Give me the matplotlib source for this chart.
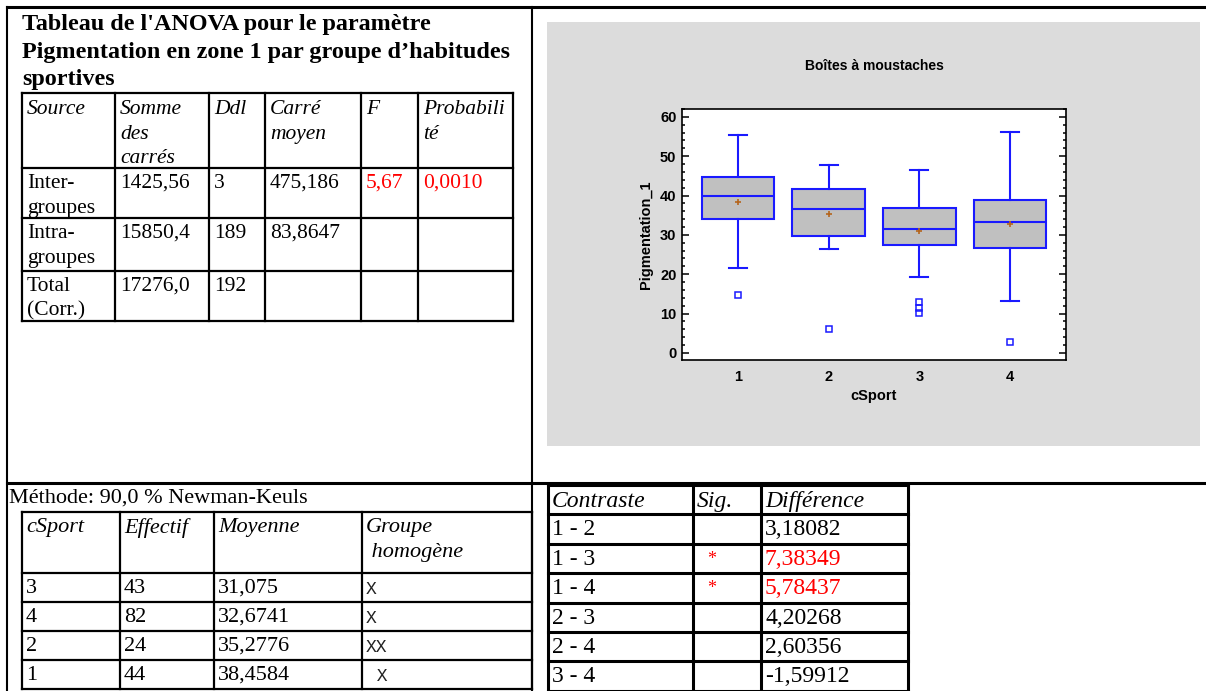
import matplotlib.pyplot as plt
from matplotlib.patches import Rectangle
from matplotlib.ticker import MultipleLocator

# ---- ANOVA table ----
anova_title = ["Tableau de l'ANOVA pour le paramètre",
               "Pigmentation en zone 1 par groupe d’habitudes",
               "sportives"]
anova_header = ["Source", "Somme\ndes\ncarrés", "Ddl", "Carré\nmoyen", "F", "Probabili\nté"]
anova_rows = [
    ["Inter-\ngroupes", "1425,56", "3", "475,186", "5,67", "0,0010"],
    ["Intra-\ngroupes", "15850,4", "189", "83,8647", "", ""],
    ["Total\n(Corr.)", "17276,0", "192", "", "", ""],
]
anova_red = [(0, 4), (0, 5)]

# ---- Newman-Keuls table ----
nk_method = "Méthode: 90,0 % Newman-Keuls"
nk_header = ["cSport", "Effectif", "Moyenne", "Groupe\n homogène"]
nk_groups = ["3", "4", "2", "1"]
nk_counts = ["43", "82", "24", "44"]
nk_means = ["31,075", "32,6741", "35,2776", "38,4584"]
nk_homog = ["X", "X", "XX", " X"]

# ---- contrasts ----
ct_header = ["Contraste", "Sig.", "Différence"]
ct_pairs = ["1 - 2", "1 - 3", "1 - 4", "2 - 3", "2 - 4", "3 - 4"]
ct_sig = ["", "*", "*", "", "", ""]
ct_diff = ["3,18082", "7,38349", "5,78437", "4,20268", "2,60356", "-1,59912"]

# ---- box plot ----
box_groups = ["1", "2", "3", "4"]
box_whislo = [21.7, 26.3, 19.3, 13.3]
box_q1 = [34.0, 29.6, 27.4, 26.6]
box_med = [39.8, 36.6, 31.5, 33.3]
box_q3 = [44.6, 41.6, 36.8, 38.8]
box_whishi = [55.5, 47.7, 46.6, 56.2]
box_mean = [38.4584, 35.2776, 31.075, 32.6741]
box_fliers = [[14.7], [6.0], [12.9, 11.5, 10.1], [2.8]]

W, H = 1206, 691
SERIF = "Liberation Serif"
SANS = "Liberation Sans"
BLUE = "#1a1aff"

fig = plt.figure(figsize=(W / 100, H / 100), dpi=100)
ax = fig.add_axes([0, 0, 1, 1], zorder=0)
ax.set_xlim(0, W)
ax.set_ylim(H, 0)
ax.axis("off")


def hline(y, x0, x1, lw):
    ax.plot([x0, x1], [y, y], color="black", lw=lw, solid_capstyle="projecting")


def vline(x, y0, y1, lw):
    ax.plot([x, x], [y0, y1], color="black", lw=lw, solid_capstyle="projecting")


def draw_grid(xs, ys, lw):
    for x in xs:
        vline(x, ys[0], ys[-1], lw)
    for y in ys:
        hline(y, xs[0], xs[-1], lw)


def cell_text(x, y, txt, size, style="normal", color="black", family=SERIF,
              pitch=24.5):
    for k, line in enumerate(txt.split("\n")):
        ax.text(x, y + k * pitch, line, va="top", ha="left", fontsize=size,
                fontstyle=style, color=color, family=family)


# page frame
hline(7, 7, W, 2.2)
vline(7, 7, H, 1.5)
vline(532, 7, H, 1.5)
hline(483, 7, W, 2.2)

# ANOVA title + table
for i, line in enumerate(anova_title):
    ax.text(22, 14 + i * 27.5, line, va="top", ha="left", fontsize=17.4,
            fontweight="bold", family=SERIF)

a_xs = [22, 115, 209, 265, 361, 418, 513]
a_ys = [93, 168, 218, 271, 321]
draw_grid(a_xs, a_ys, 1.6)
for c, txt in enumerate(anova_header):
    cell_text(a_xs[c] + 5, a_ys[0] + 7, txt, 15.5, style="italic")
for r, row in enumerate(anova_rows):
    for c, txt in enumerate(row):
        col = "red" if (r, c) in anova_red else "black"
        cell_text(a_xs[c] + 5, a_ys[r + 1] + 6, txt, 15.5, color=col)

# Newman-Keuls table
ax.text(9, 489, nk_method, va="top", ha="left", fontsize=16, family=SERIF)
n_xs = [22, 120, 214, 362, 532]
n_ys = [512, 573, 602, 631, 660, 689]
draw_grid(n_xs, n_ys, 1.6)
for c, txt in enumerate(nk_header):
    cell_text(n_xs[c] + 4, n_ys[0] + 6, txt, 16, style="italic")
for r in range(len(nk_groups)):
    y = n_ys[r + 1] + 6
    cell_text(n_xs[0] + 4, y, nk_groups[r], 16)
    cell_text(n_xs[1] + 4, y, nk_counts[r], 16)
    cell_text(n_xs[2] + 4, y, nk_means[r], 16)
    cell_text(n_xs[3] + 4, y + 2, nk_homog[r], 13, family="Liberation Mono",
              color="#222222")

# contrast table
c_xs = [548, 693, 761, 908]
c_ys = [485 + 29.4 * k for k in range(8)]
draw_grid(c_xs, c_ys, 2.2)
for c, txt in enumerate(ct_header):
    cell_text(c_xs[c] + 4, c_ys[0] + 6, txt, 17, style="italic")
for r in range(len(ct_pairs)):
    y = c_ys[r + 1] + 5
    col = "red" if ct_sig[r] else "black"
    cell_text(c_xs[0] + 4, y, ct_pairs[r], 17)
    cell_text(c_xs[1] + 14, y + 2, ct_sig[r], 13, color=col)
    cell_text(c_xs[2] + 4, y, ct_diff[r], 17, color=col)

# grey chart panel
ax.add_patch(Rectangle((547, 22), 653, 424, facecolor="#dcdcdc", edgecolor="none"))

# box plot
bx = fig.add_axes([682 / W, 1 - 360 / H, 384 / W, 251 / H], zorder=2)
stats = []
for i, g in enumerate(box_groups):
    stats.append(dict(label=g, whislo=box_whislo[i], q1=box_q1[i], med=box_med[i],
                      q3=box_q3[i], whishi=box_whishi[i], mean=box_mean[i],
                      fliers=box_fliers[i]))
bx.bxp(stats, positions=[1, 2, 3, 4], widths=0.8, capwidths=0.2,
       patch_artist=True, showmeans=True,
       boxprops=dict(facecolor="#c0c0c0", edgecolor=BLUE, linewidth=1.5),
       medianprops=dict(color=BLUE, linewidth=1.5),
       whiskerprops=dict(color=BLUE, linewidth=1.5),
       capprops=dict(color=BLUE, linewidth=1.5),
       meanprops=dict(marker="+", markeredgecolor="#b5651d", markersize=5,
                      markeredgewidth=1.2),
       flierprops=dict(marker="s", markerfacecolor="none", markeredgecolor=BLUE,
                       markersize=4, markeredgewidth=1.1))
bx.set_xlim(0.385, 4.615)
bx.set_ylim(-1.8, 62)
bx.yaxis.set_major_locator(MultipleLocator(10))
bx.yaxis.set_minor_locator(MultipleLocator(2))
bx.tick_params(axis="y", which="both", direction="in", left=True, right=True,
               width=1.1, labelsize=10.5, pad=4)
bx.tick_params(axis="y", which="major", length=5)
bx.tick_params(axis="y", which="minor", length=2.5)
bx.tick_params(axis="x", length=0, labelsize=10.5, pad=7)
for lbl in bx.get_xticklabels() + bx.get_yticklabels():
    lbl.set_fontweight("bold")
    lbl.set_family(SANS)
for s in bx.spines.values():
    s.set_linewidth(1.2)
bx.set_title("Boîtes à moustaches", fontsize=10, fontweight="bold", family=SANS, pad=28)
bx.set_xlabel("cSport", fontsize=10.5, fontweight="bold", family=SANS, labelpad=4)
bx.set_ylabel("Pigmentation_1", fontsize=10.5, fontweight="bold", family=SANS, labelpad=5)

fig.savefig("out.png", dpi=100)
